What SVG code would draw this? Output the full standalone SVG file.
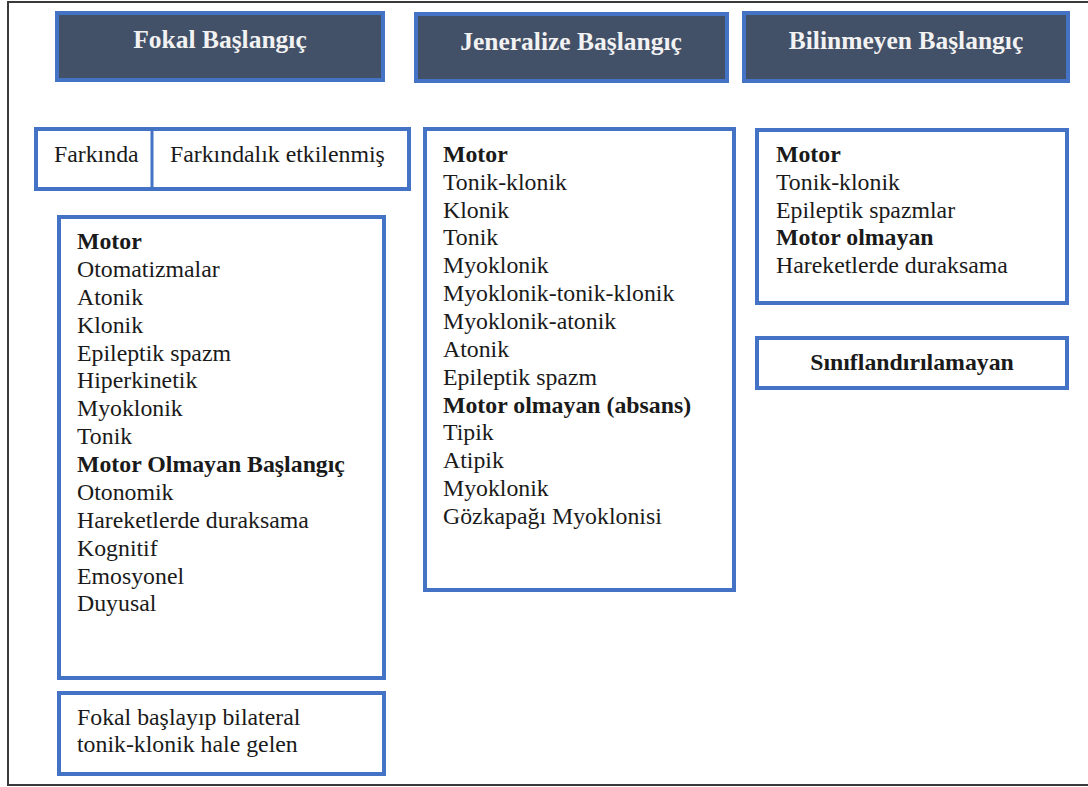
<svg xmlns="http://www.w3.org/2000/svg" width="1088" height="787" viewBox="0 0 1088 787" font-family="'Liberation Serif', 'Times New Roman', Tinos, 'DejaVu Serif', serif">
<style>
.hdr{fill:#425068;stroke:#4472c4;stroke-width:4}
.box{fill:#ffffff;stroke:#4472c4;stroke-width:4}
text{font-family:'Liberation Serif','Times New Roman',Tinos,'DejaVu Serif',serif}
.ht{font-weight:bold;font-size:25.5px;fill:#f2f2f2;text-anchor:middle}
.t{font-size:23.8px;fill:#1a1a1a}
.b{font-weight:bold}
</style>
<rect x="0" y="0" width="1088" height="787" fill="#ffffff"/>
<rect x="8" y="2" width="1084" height="783" fill="none" stroke="#3a3a3a" stroke-width="2"/>
<g id="hdr-fokal"><rect class="hdr" x="57" y="13" width="326" height="67"/><text class="ht" x="220" y="48">Fokal Başlangıç</text></g>
<g id="hdr-jeneralize"><rect class="hdr" x="416" y="14" width="311" height="67"/><text class="ht" x="571" y="50">Jeneralize Başlangıç</text></g>
<g id="hdr-bilinmeyen"><rect class="hdr" x="744" y="13" width="324" height="68"/><text class="ht" x="906" y="49">Bilinmeyen Başlangıç</text></g>
<g id="farkinda"><rect class="box" x="36" y="129" width="373" height="60"/><line x1="152" y1="129" x2="152" y2="189" stroke="#4472c4" stroke-width="3"/><text class="t" x="54" y="162">Farkında</text><text class="t" x="170" y="162">Farkındalık etkilenmiş</text></g>
<g id="fokal-list"><rect class="box" x="59" y="217" width="325" height="461"/>
<text class="t"><tspan class="b" x="77" y="249">Motor</tspan><tspan x="77" y="277">Otomatizmalar</tspan><tspan x="77" y="305">Atonik</tspan><tspan x="77" y="333">Klonik</tspan><tspan x="77" y="361">Epileptik spazm</tspan><tspan x="77" y="388">Hiperkinetik</tspan><tspan x="77" y="416">Myoklonik</tspan><tspan x="77" y="444">Tonik</tspan><tspan class="b" x="77" y="472">Motor Olmayan Başlangıç</tspan><tspan x="77" y="500">Otonomik</tspan><tspan x="77" y="528">Hareketlerde duraksama</tspan><tspan x="77" y="556">Kognitif</tspan><tspan x="77" y="584">Emosyonel</tspan><tspan x="77" y="611">Duyusal</tspan></text></g>
<g id="fokal-bilateral"><rect class="box" x="59" y="693" width="325" height="81"/><text class="t"><tspan x="77" y="725">Fokal başlayıp bilateral</tspan><tspan x="77" y="752">tonik-klonik hale gelen</tspan></text></g>
<g id="jeneralize-list"><rect class="box" x="425" y="129" width="309" height="461"/>
<text class="t"><tspan class="b" x="443" y="162">Motor</tspan><tspan x="443" y="190">Tonik-klonik</tspan><tspan x="443" y="218">Klonik</tspan><tspan x="443" y="245">Tonik</tspan><tspan x="443" y="273">Myoklonik</tspan><tspan x="443" y="301">Myoklonik-tonik-klonik</tspan><tspan x="443" y="329">Myoklonik-atonik</tspan><tspan x="443" y="357">Atonik</tspan><tspan x="443" y="385">Epileptik spazm</tspan><tspan class="b" x="443" y="413">Motor olmayan (absans)</tspan><tspan x="443" y="440">Tipik</tspan><tspan x="443" y="468">Atipik</tspan><tspan x="443" y="496">Myoklonik</tspan><tspan x="443" y="524">Gözkapağı Myoklonisi</tspan></text></g>
<g id="bilinmeyen-list"><rect class="box" x="757" y="130" width="310" height="173"/>
<text class="t"><tspan class="b" x="776" y="162">Motor</tspan><tspan x="776" y="190">Tonik-klonik</tspan><tspan x="776" y="218">Epileptik spazmlar</tspan><tspan class="b" x="776" y="245">Motor olmayan</tspan><tspan x="776" y="273">Hareketlerde duraksama</tspan></text></g>
<g id="siniflandirilamayan"><rect class="box" x="757" y="338" width="310" height="50"/><text class="t b" x="912" y="370" text-anchor="middle">Sınıflandırılamayan</text></g>
<g id="connectors"></g>
</svg>
